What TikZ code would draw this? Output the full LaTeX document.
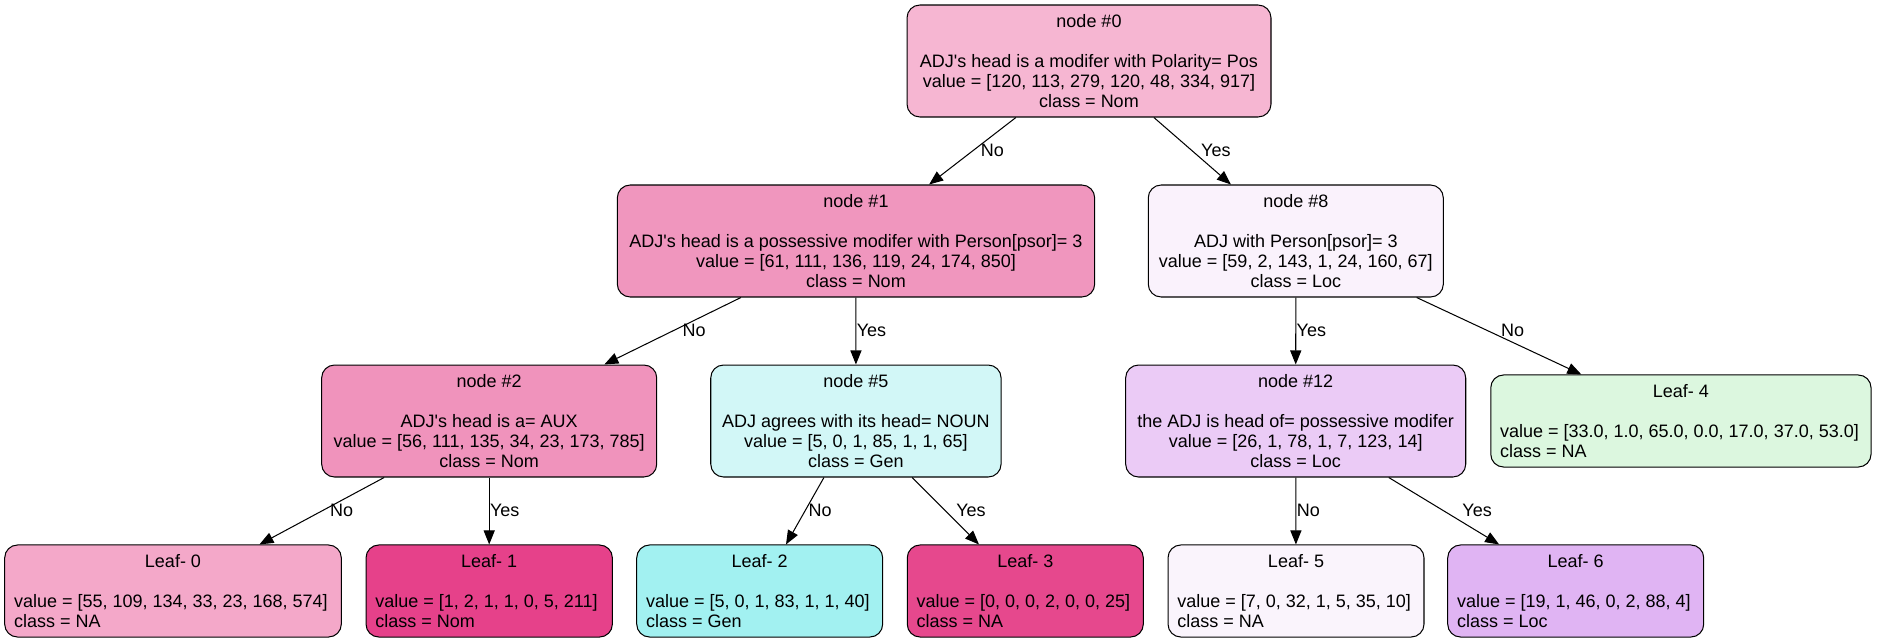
\documentclass[tikz,border=0pt]{standalone}
\usepackage{fontspec}
\newfontfamily\helv{Liberation Sans}
\usetikzlibrary{arrows.meta}
\definecolor{cn0}{HTML}{F6B6D2}
\definecolor{cn1}{HTML}{F096BE}
\definecolor{cn2}{HTML}{F093BC}
\definecolor{cn5}{HTML}{D2F7F7}
\definecolor{cn8}{HTML}{FAF2FC}
\definecolor{cn12}{HTML}{EBCBF6}
\definecolor{cl0}{HTML}{F4A8C9}
\definecolor{cl1}{HTML}{E6418A}
\definecolor{cl2}{HTML}{A2F1F1}
\definecolor{cl3}{HTML}{E6488D}
\definecolor{cl4}{HTML}{DCF7DF}
\definecolor{cl5}{HTML}{FAF4FC}
\definecolor{cl6}{HTML}{E0B4F3}
\newcommand{\leaftext}[3]{\spaceskip=0pt\xspaceskip=0pt\relax
  \makebox[\linewidth]{#1}\\[\baselineskip]\makebox[\linewidth][l]{#2}\\\makebox[\linewidth][l]{#3}}
\tikzset{
  base/.style={draw=black, line width=0.8pt, rounded corners=10pt},
  inode/.style={base, align=center, inner sep=0pt, minimum height=87.1pt},
  leaf/.style={base, align=left, inner xsep=7.23pt, inner ysep=0pt, minimum height=71.6pt},
  conn/.style={draw=black, line width=0.8pt, -{Triangle[length=10.9pt,width=8.6pt]}},
  lbl/.style={inner sep=0pt, anchor=west, yshift=0.8pt},
}
\begin{document}
\begin{tikzpicture}[x=0.7778pt, y=-0.7778pt, font=\helv\fontsize{14pt}{15.556pt}\selectfont]
\fill[white] (0,0) rectangle (1877,643);
\useasboundingbox (0,0) rectangle (1877,643);

% internal nodes
\node[inode, fill=cn0, minimum width=283.1pt] (n0) at (1089,61)
  {node \#0\\[\baselineskip]ADJ's head is a modifer with Polarity= Pos\\value = [120, 113, 279, 120, 48, 334, 917]\\class = Nom};
\node[inode, fill=cn1, minimum width=371.3pt] (n1) at (856,241)
  {node \#1\\[\baselineskip]ADJ's head is a possessive modifer with Person[psor]= 3\\value = [61, 111, 136, 119, 24, 174, 850]\\class = Nom};
\node[inode, fill=cn8, minimum width=229.5pt] (n8) at (1295.8,241)
  {node \#8\\[\baselineskip]ADJ with Person[psor]= 3\\value = [59, 2, 143, 1, 24, 160, 67]\\class = Loc};
\node[inode, fill=cn2, minimum width=260.6pt] (n2) at (489.2,421)
  {node \#2\\[\baselineskip]ADJ's head is a= AUX\\value = [56, 111, 135, 34, 23, 173, 785]\\class = Nom};
\node[inode, fill=cn5, minimum width=225.8pt] (n5) at (855.9,421)
  {node \#5\\[\baselineskip]ADJ agrees with its head= NOUN\\value = [5, 0, 1, 85, 1, 1, 65]\\class = Gen};
\node[inode, fill=cn12, minimum width=264.5pt] (n12) at (1295.7,421)
  {node \#12\\[\baselineskip]the ADJ is head of= possessive modifer\\value = [26, 1, 78, 1, 7, 123, 14]\\class = Loc};

% leaves
\node[leaf, fill=cl4, text width=281.3pt, minimum width=295.8pt] (l4) at (1680.9,421)
  {\leaftext{Leaf- 4}{value = [33.0, 1.0, 65.0, 0.0, 17.0, 37.0, 53.0]}{class = NA}};
\node[leaf, fill=cl0, text width=247.3pt, minimum width=261.8pt] (l0) at (173,591)
  {\leaftext{Leaf- 0}{value = [55, 109, 134, 33, 23, 168, 574]}{class = NA}};
\node[leaf, fill=cl1, text width=177.1pt, minimum width=191.6pt] (l1) at (489.2,591)
  {\leaftext{Leaf- 1}{value = [1, 2, 1, 1, 0, 5, 211]}{class = Nom}};
\node[leaf, fill=cl2, text width=176.8pt, minimum width=191.3pt] (l2) at (759.7,591)
  {\leaftext{Leaf- 2}{value = [5, 0, 1, 83, 1, 1, 40]}{class = Gen}};
\node[leaf, fill=cl3, text width=169.1pt, minimum width=183.6pt] (l3) at (1025.3,591)
  {\leaftext{Leaf- 3}{value = [0, 0, 0, 2, 0, 0, 25]}{class = NA}};
\node[leaf, fill=cl5, text width=184.6pt, minimum width=199.1pt] (l5) at (1296,591)
  {\leaftext{Leaf- 5}{value = [7, 0, 32, 1, 5, 35, 10]}{class = NA}};
\node[leaf, fill=cl6, text width=184.6pt, minimum width=199.1pt] (l6) at (1575.7,591)
  {\leaftext{Leaf- 6}{value = [19, 1, 46, 0, 2, 88, 4]}{class = Loc}};

% connectors
\draw[conn] (n0) -- node[lbl, xshift=6.1pt] {No} (n1);
\draw[conn] (n0) -- node[lbl, xshift=6.4pt] {Yes} (n8);
\draw[conn] (n1) -- node[lbl, xshift=7.4pt] {No} (n2);
\draw[conn] (n1) -- node[lbl, xshift=0.3pt] {Yes} (n5);
\draw[conn] (n8) -- node[lbl, xshift=0.3pt] {Yes} (n12);
\draw[conn] (n8) -- node[lbl, xshift=1.3pt, yshift=3.9pt] {No} (l4);
\draw[conn] (n2) -- node[lbl, xshift=6.1pt] {No} (l0);
\draw[conn] (n2) -- node[lbl, xshift=0.3pt] {Yes} (l1);
\draw[conn] (n5) -- node[lbl, xshift=2.4pt] {No} (l2);
\draw[conn] (n5) -- node[lbl, xshift=7.9pt] {Yes} (l3);
\draw[conn] (n12) -- node[lbl, xshift=0.3pt] {No} (l5);
\draw[conn] (n12) -- node[lbl, xshift=14pt] {Yes} (l6);
\end{tikzpicture}
\end{document}
